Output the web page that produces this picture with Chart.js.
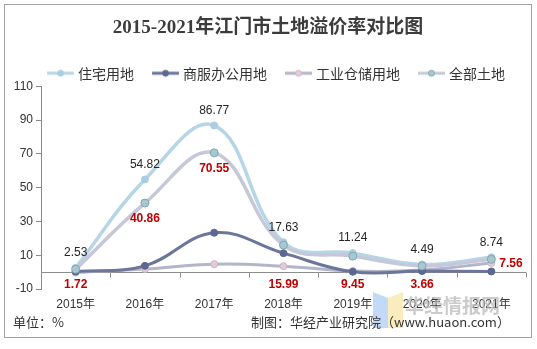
<!DOCTYPE html>
<html>
<head>
<meta charset="utf-8">
<script src="https://cdn.jsdelivr.net/npm/chart.js@4/dist/chart.umd.min.js"></script>
<style>
  html, body { margin: 0; padding: 0; background: #fff; }
  #wrap { width: 537px; height: 349px; }
</style>
</head>
<body>
<div id="wrap"><canvas id="c" width="537" height="349"></canvas></div>
<script>
// Premium rate of land transactions in Jiangmen, 2015-2021 (%)
const years = ['2015年', '2016年', '2017年', '2018年', '2019年', '2020年', '2021年'];
const seriesNames = ['住宅用地', '商服办公用地', '工业仓储用地', '全部土地'];
const residential = [2.53, 54.82, 86.77, 17.63, 11.24, 4.49, 8.74];
const commercial = [0.3, 3.7, 23.3, 11.2, 0.2, 0.6, 0.4];
const industrial = [-0.2, 1.8, 4.7, 3.5, 0.6, 1.2, 5.4];
const overall = [1.72, 40.86, 70.55, 15.99, 9.45, 3.66, 7.56];
const yTickValues = [-10, 10, 30, 50, 70, 90, 110];

// where each overall-rate label sits relative to its point
const overallLabelPlacement = ['bottom', 'below', 'below', 'bottom', 'bottom', 'bottom', 'right'];

const NUM_FONT = '"Liberation Sans", Arial, "Noto Sans CJK SC", sans-serif';
const CJK_FONT = '"Noto Sans CJK SC", "Liberation Sans", sans-serif';

const styles = [
  { line: '#b6d5e6', fill: '#a9cde2', border: '#a9cde2', width: 3.5, radius: 3.5 },
  { line: '#6c769b', fill: '#5c6891', border: '#5c6891', width: 3, radius: 3.5 },
  { line: '#b3b5ca', fill: '#e3cbd7', border: '#cdb5c5', width: 3, radius: 3.5 },
  { line: '#c6c8d9', fill: '#a8c8d1', border: '#7fa7b2', width: 3.5, radius: 4 }
];

// legend swatch: short line with a dot, offset to the right inside its canvas
function makeSwatch(s) {
  const cv = document.createElement('canvas');
  cv.width = 48; cv.height = 10;
  const g = cv.getContext('2d');
  g.strokeStyle = s.line; g.lineWidth = 3;
  g.beginPath(); g.moveTo(20, 5); g.lineTo(47, 5); g.stroke();
  g.beginPath(); g.arc(33.5, 5, 3, 0, Math.PI * 2);
  g.fillStyle = s.fill; g.fill();
  g.strokeStyle = s.border; g.lineWidth = 1; g.stroke();
  return cv;
}
const swatches = styles.map(makeSwatch);

const seriesValues = [residential, commercial, industrial, overall];
const drawOrder = [3, 1, 2, 0];

const datasets = seriesValues.map((vals, i) => ({
  label: seriesNames[i],
  data: vals,
  borderColor: styles[i].line,
  backgroundColor: styles[i].fill,
  borderWidth: styles[i].width,
  pointRadius: styles[i].radius,
  pointBackgroundColor: styles[i].fill,
  pointBorderColor: styles[i].border,
  pointBorderWidth: 1,
  tension: 0.4,
  order: drawOrder[i],
  clip: false
}));

const framePlugin = {
  id: 'frame',
  beforeDraw(chart) {
    const ctx = chart.ctx;
    ctx.save();
    ctx.fillStyle = '#fff';
    ctx.fillRect(0, 0, chart.width, chart.height);
    ctx.restore();
  },
  afterDraw(chart) {
    const ctx = chart.ctx;
    ctx.save();
    ctx.strokeStyle = '#a3a3a3';
    ctx.lineWidth = 1;
    ctx.strokeRect(4.5, 4.5, 527, 333);
    ctx.restore();
  }
};

// horizontal axis line drawn at zero, with ticks between categories
const zeroAxisPlugin = {
  id: 'zeroAxis',
  beforeDatasetsDraw(chart) {
    const { ctx, chartArea, scales } = chart;
    const y0 = Math.round(scales.y.getPixelForValue(0)) + 0.5;
    const n = years.length;
    const step = (chartArea.right - chartArea.left) / n;
    ctx.save();
    ctx.strokeStyle = '#8c8c8c';
    ctx.lineWidth = 1;
    ctx.beginPath();
    ctx.moveTo(chartArea.left, y0);
    ctx.lineTo(chartArea.right, y0);
    for (let i = 1; i <= n; i++) {
      const x = Math.round(chartArea.left + i * step) + 0.5;
      ctx.moveTo(x, y0);
      ctx.lineTo(x, y0 + 5);
    }
    ctx.stroke();
    ctx.restore();
  }
};

const valueLabelPlugin = {
  id: 'valueLabels',
  afterDatasetsDraw(chart) {
    const ctx = chart.ctx;
    const yScale = chart.scales.y;
    ctx.save();
    ctx.textBaseline = 'middle';
    // residential values above their points
    const resMeta = chart.getDatasetMeta(0);
    ctx.font = '12px ' + NUM_FONT;
    ctx.fillStyle = '#262626';
    ctx.textAlign = 'center';
    resMeta.data.forEach((pt, i) => {
      ctx.fillText(residential[i].toFixed(2), pt.x, pt.y - 15);
    });
    // overall values in red
    const allMeta = chart.getDatasetMeta(3);
    ctx.font = 'bold 12px ' + NUM_FONT;
    ctx.fillStyle = '#c00000';
    allMeta.data.forEach((pt, i) => {
      const txt = overall[i].toFixed(2);
      const place = overallLabelPlacement[i];
      if (place === 'right') {
        ctx.textAlign = 'left';
        ctx.fillText(txt, pt.x + 8, pt.y + 4);
      } else if (place === 'below') {
        ctx.textAlign = 'center';
        ctx.fillText(txt, pt.x, pt.y + 16);
      } else {
        ctx.textAlign = 'center';
        ctx.fillText(txt, pt.x, yScale.getPixelForValue(-7.2));
      }
    });
    ctx.restore();
  }
};

const footerPlugin = {
  id: 'footer',
  afterDraw(chart) {
    const ctx = chart.ctx;
    ctx.save();
    // watermark
    ctx.globalAlpha = 0.55;
    ctx.fillStyle = '#8fb9f2';
    ctx.beginPath();
    ctx.moveTo(373, 292); ctx.lineTo(388, 298); ctx.lineTo(388, 328); ctx.lineTo(373, 328);
    ctx.closePath(); ctx.fill();
    ctx.fillStyle = '#f6dc86';
    ctx.beginPath();
    ctx.moveTo(388, 298); ctx.lineTo(403, 292); ctx.lineTo(403, 328); ctx.lineTo(388, 328);
    ctx.closePath(); ctx.fill();
    ctx.globalAlpha = 0.75;
    ctx.fillStyle = '#b9b9b9';
    ctx.font = 'bold 19px ' + CJK_FONT;
    ctx.textAlign = 'left';
    ctx.textBaseline = 'middle';
    ctx.fillText('华经情报网', 405, 306);
    ctx.globalAlpha = 1;
    // notes
    ctx.fillStyle = '#333';
    ctx.font = '13px ' + CJK_FONT;
    ctx.fillText('单位：%', 13, 322);
    ctx.fillText('制图：华经产业研究院（www.huaon.com）', 251, 322);
    ctx.restore();
  }
};

// trims the legend box so the plot starts just under it
const legendFitPlugin = {
  id: 'legendFit',
  beforeLayout(chart) {
    const lg = chart.legend;
    if (lg && !lg._trimmed) {
      const fit = lg.fit;
      lg.fit = function () { fit.call(this); this.height -= 4; };
      lg._trimmed = true;
    }
  }
};

new Chart(document.getElementById('c'), {
  type: 'line',
  data: { labels: years, datasets },
  plugins: [framePlugin, zeroAxisPlugin, valueLabelPlugin, footerPlugin, legendFitPlugin],
  options: {
    responsive: false,
    animation: false,
    devicePixelRatio: 1,
    layout: { padding: { left: 10, right: 11, top: 0, bottom: 0 } },
    plugins: {
      title: {
        display: true,
        text: '2015-2021年江门市土地溢价率对比图',
        color: '#3c3c3c',
        font: { family: '"Liberation Serif", "Noto Sans CJK SC", serif', size: 19, weight: 'bold' },
        padding: { top: 17, bottom: 24.4 }
      },
      legend: {
        display: true,
        position: 'top',
        labels: {
          usePointStyle: true,
          pointStyleWidth: 40,
          padding: 2,
          color: '#333',
          font: { family: CJK_FONT, size: 14 },
          generateLabels(chart) {
            const items = Chart.defaults.plugins.legend.labels.generateLabels(chart);
            items.forEach(it => { it.pointStyle = swatches[it.datasetIndex]; });
            return items;
          },
          sort: (a, b) => a.datasetIndex - b.datasetIndex
        }
      },
      tooltip: { enabled: false }
    },
    scales: {
      x: {
        type: 'category',
        offset: true,
        grid: { display: false, drawTicks: false },
        border: { display: false },
        ticks: { color: '#333', font: { family: NUM_FONT, size: 12 }, padding: 8, maxRotation: 0 },
        afterFit(scale) { scale.height = 60; }
      },
      y: {
        min: -10,
        max: 110,
        afterBuildTicks(scale) { scale.ticks = yTickValues.map(v => ({ value: v })); },
        grid: { drawOnChartArea: false, drawTicks: true, tickLength: 5, color: '#8c8c8c' },
        border: { display: true, color: '#8c8c8c' },
        ticks: { color: '#333', font: { family: NUM_FONT, size: 12 }, padding: 3 },
        afterFit(scale) { scale.width = 31; }
      }
    }
  }
});
</script>
</body>
</html>
